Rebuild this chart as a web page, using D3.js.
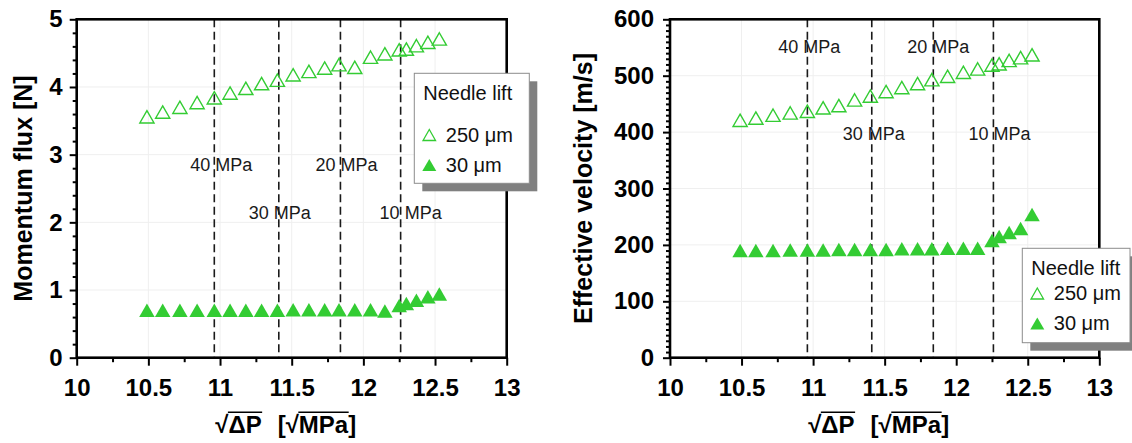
<!DOCTYPE html>
<html>
<head>
<meta charset="utf-8">
<script src="https://cdn.jsdelivr.net/npm/d3@7"></script>
<style>
  body { margin: 0; background: #fff; }
  svg { display: block; }
</style>
</head>
<body>
<svg id="chart" width="1132" height="443"></svg>
<script>
// sqrt of the pressure drop, in sqrt(MPa)
const sqrtDP = [10.49, 10.60, 10.72, 10.84, 10.96, 11.07, 11.18, 11.29, 11.40, 11.51, 11.62,
                11.73, 11.83, 11.94, 12.05, 12.15, 12.25, 12.30, 12.37, 12.45, 12.53];

// Momentum flux [N] for the two needle lifts
const momentum250 = [3.56, 3.63, 3.70, 3.77, 3.84, 3.91, 3.98, 4.05, 4.10, 4.18, 4.23,
                     4.28, 4.33, 4.29, 4.44, 4.49, 4.55, 4.56, 4.61, 4.66, 4.71];
const momentum30  = [0.70, 0.70, 0.70, 0.70, 0.70, 0.70, 0.70, 0.70, 0.70, 0.71, 0.71,
                     0.71, 0.71, 0.71, 0.71, 0.69, 0.77, 0.80, 0.85, 0.90, 0.94];

// Effective velocity [m/s] for the two needle lifts
const velocity250 = [421, 425, 430, 434, 437, 443, 447, 457, 464, 472, 479,
                     486, 493, 499, 506, 512, 519, 521, 527, 532, 537];
const velocity30  = [190, 190, 190, 191, 191, 191, 192, 192, 192, 192, 193,
                     193, 193, 194, 194, 194, 208, 215, 222, 229, 254];

// Reference injection pressures, marked as dashed verticals
const pressureAt    = [10.96, 11.41, 11.84, 12.26];
const pressureNames = ["40 MPa", "30 MPa", "20 MPa", "10 MPa"];

// Axis ticks
const xTicks        = [10, 10.5, 11, 11.5, 12, 12.5, 13];
const momentumTicks = [0, 1, 2, 3, 4, 5];
const velocityTicks = [0, 100, 200, 300, 400, 500, 600];

const legendTitle = "Needle lift";
const seriesNames = ["250 \u03BCm", "30 \u03BCm"];

const FONT  = "'Liberation Sans', Arial, Helvetica, sans-serif";
const GREEN = "#33cc33";
const svg = d3.select("#chart");

function triangle(w, h) {
  return `M0,${-h / 2}L${w / 2},${h / 2}L${-w / 2},${h / 2}Z`;
}

const panels = [
  {
    box: { left: 76.7, right: 506.7, top: 19.3, bottom: 357.7 },
    yDomain: [0, 5], yTicks: momentumTicks, yMinorStep: 0.2,
    open: momentum250, filled: momentum30,
    yTitle: "Momentum flux [N]", yTitleX: 32, yLabelGap: 14,
    labelRows: [170.5, 218.5], labelRowOf: [0, 1, 0, 1], labelShift: [7, 1, 6, 10],
    legend: { x: 414.3, y: 73.3, w: 115, h: 110, title: 100, rows: [141.5, 171.5] }
  },
  {
    box: { left: 670, right: 1099.3, top: 19.3, bottom: 357.7 },
    yDomain: [0, 600], yTicks: velocityTicks, yMinorStep: 10,
    open: velocity250, filled: velocity30,
    yTitle: "Effective velocity [m/s]", yTitleX: 592, yLabelGap: 16,
    labelRows: [52.5, 140], labelRowOf: [0, 1, 0, 1], labelShift: [2, 2, 5, 6],
    legend: { x: 1022.3, y: 248.3, w: 107.7, h: 94.4, title: 275, rows: [300, 330] }
  }
];

panels.forEach(p => {
  const b = p.box;
  const x = d3.scaleLinear().domain([10, 13]).range([b.left, b.right]);
  const y = d3.scaleLinear().domain(p.yDomain).range([b.bottom, b.top]);
  const g = svg.append("g");

  // faint grid at major ticks
  g.append("g").selectAll("line.gx").data(xTicks.slice(1, -1)).join("line")
    .attr("x1", d => x(d)).attr("x2", d => x(d)).attr("y1", b.top).attr("y2", b.bottom)
    .attr("stroke", "#efefef").attr("stroke-width", 1);
  g.append("g").selectAll("line.gy").data(p.yTicks.slice(1, -1)).join("line")
    .attr("x1", b.left).attr("x2", b.right).attr("y1", d => y(d)).attr("y2", d => y(d))
    .attr("stroke", "#efefef").attr("stroke-width", 1);

  // dashed pressure markers and their labels
  g.append("g").selectAll("line").data(pressureAt).join("line")
    .attr("x1", d => x(d)).attr("x2", d => x(d)).attr("y1", b.top).attr("y2", b.bottom)
    .attr("stroke", "#1a1a1a").attr("stroke-width", 1.6).attr("stroke-dasharray", "8,4.5");
  g.append("g").selectAll("text").data(pressureAt).join("text")
    .attr("x", (d, i) => x(d) + p.labelShift[i])
    .attr("y", (d, i) => p.labelRows[p.labelRowOf[i]])
    .attr("text-anchor", "middle")
    .attr("font-family", FONT).attr("font-size", 18).attr("fill", "#1a1a1a")
    .text((d, i) => pressureNames[i]);

  // 30 um: filled triangles
  g.append("g").selectAll("path").data(p.filled).join("path")
    .attr("transform", (d, i) => `translate(${x(sqrtDP[i])},${y(d)})`)
    .attr("d", triangle(15.5, 13.5))
    .attr("fill", GREEN);

  // 250 um: open triangles
  g.append("g").selectAll("path").data(p.open).join("path")
    .attr("transform", (d, i) => `translate(${x(sqrtDP[i])},${y(d)})`)
    .attr("d", triangle(14.2, 12.4))
    .attr("fill", "none").attr("stroke", GREEN).attr("stroke-width", 1.4);

  // y axis with minor ticks
  const yMinor = d3.range(p.yDomain[0], p.yDomain[1] + 1e-9, p.yMinorStep)
    .filter(v => !p.yTicks.some(t => Math.abs(t - v) < 1e-9));
  const yAxis = d3.axisLeft(y).tickValues(p.yTicks).tickSize(7).tickPadding(p.yLabelGap - 7)
    .tickFormat(d3.format("d"));
  const ya = g.append("g").attr("transform", `translate(${b.left},0)`).call(yAxis);
  g.append("g").attr("transform", `translate(${b.left},0)`)
    .call(d3.axisLeft(y).tickValues(yMinor).tickSize(4).tickFormat(""))
    .call(s => s.select(".domain").remove());

  // x axis with minor ticks
  const xMinor = [10.25, 10.75, 11.25, 11.75, 12.25, 12.75];
  const xa = g.append("g").attr("transform", `translate(0,${b.bottom})`)
    .call(d3.axisBottom(x).tickValues(xTicks).tickSize(8).tickPadding(13)
      .tickFormat(d => d3.format("")(d)));
  g.append("g").attr("transform", `translate(0,${b.bottom})`)
    .call(d3.axisBottom(x).tickValues(xMinor).tickSize(4.5).tickFormat(""))
    .call(s => s.select(".domain").remove());

  [ya, xa].forEach(a => {
    a.select(".domain").remove();
    a.selectAll("text").attr("font-family", FONT).attr("font-size", 24)
      .attr("font-weight", "bold").attr("fill", "#000");
  });
  g.selectAll(".tick line").attr("stroke", "#000").attr("stroke-width", 2);

  // plot frame
  g.append("rect")
    .attr("x", b.left).attr("y", b.top)
    .attr("width", b.right - b.left).attr("height", b.bottom - b.top)
    .attr("fill", "none").attr("stroke", "#000").attr("stroke-width", 2.6);

  // y title
  g.append("text")
    .attr("transform", `translate(${p.yTitleX},${(b.top + b.bottom) / 2}) rotate(-90)`)
    .attr("text-anchor", "middle")
    .attr("font-family", FONT).attr("font-size", 25).attr("font-weight", "bold")
    .text(p.yTitle);

  // x title: sqrt(dP) [sqrt(MPa)] with radical bars
  const xt = g.append("g");
  const base = 433;
  const parts = [
    { t: "\u221A", bar: false }, { t: "\u0394P", bar: true },
    { t: "  [", bar: false, gap: 16 }, { t: "\u221A", bar: false },
    { t: "MPa", bar: true }, { t: "]", bar: false }
  ];
  let cursor = 0;
  const nodes = parts.map(pt => {
    if (pt.gap) cursor += pt.gap;
    const txt = pt.gap ? "[" : pt.t;
    const el = xt.append("text").attr("x", cursor).attr("y", base)
      .attr("font-family", FONT).attr("font-size", 24).attr("font-weight", "bold")
      .text(txt);
    const w = el.node().getComputedTextLength();
    const node = { el, x0: cursor, w, bar: pt.bar };
    cursor += w;
    return node;
  });
  const rootBox = nodes[0].el.node().getBBox();
  const barY = rootBox.y + 1.2;
  nodes.filter(n => n.bar).forEach(n => {
    xt.append("line").attr("x1", n.x0 - 0.5).attr("x2", n.x0 + n.w + 0.5)
      .attr("y1", barY).attr("y2", barY).attr("stroke", "#000").attr("stroke-width", 1.6);
  });
  const cx = (b.left + b.right) / 2 - 6;
  xt.attr("transform", `translate(${cx - cursor / 2},0)`);

  // legend with drop shadow
  const L = p.legend;
  const lg = svg.append("g");
  lg.append("rect").attr("x", L.x + 8).attr("y", L.y + 8).attr("width", L.w).attr("height", L.h)
    .attr("fill", "#808080");
  lg.append("rect").attr("x", L.x).attr("y", L.y).attr("width", L.w).attr("height", L.h)
    .attr("fill", "#fff").attr("stroke", "#8c8c8c").attr("stroke-width", 1);
  lg.append("text").attr("x", L.x + 9).attr("y", L.title)
    .attr("font-family", FONT).attr("font-size", 20).attr("fill", "#111").text(legendTitle);
  seriesNames.forEach((name, i) => {
    const row = L.rows[i];
    const m = lg.append("path")
      .attr("transform", `translate(${L.x + 15},${row - 6.5})`);
    if (i === 0) {
      m.attr("d", triangle(12.5, 11)).attr("fill", "none")
        .attr("stroke", GREEN).attr("stroke-width", 1.3);
    } else {
      m.attr("d", triangle(14, 12)).attr("fill", GREEN);
    }
    lg.append("text").attr("x", L.x + 31.5).attr("y", row)
      .attr("font-family", FONT).attr("font-size", 20).attr("fill", "#111").text(name);
  });
});
</script>
</body>
</html>
